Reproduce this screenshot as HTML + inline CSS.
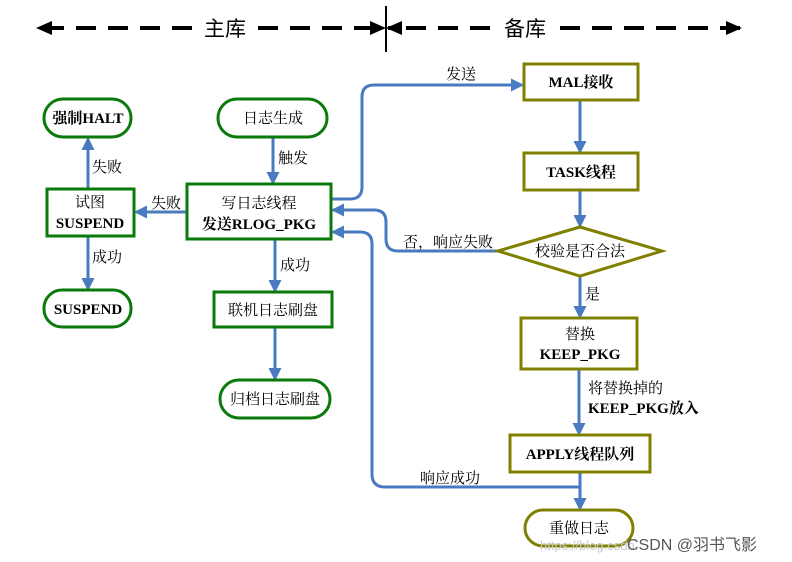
<!DOCTYPE html>
<html><head><meta charset="utf-8"><style>
html,body{margin:0;padding:0;background:#fff;}
svg{display:block;}
text{font-family:"Liberation Serif","Noto Serif CJK SC",serif;font-size:15px;fill:#000;}
.b{font-weight:bold;}
</style></head><body>
<svg width="792" height="562" viewBox="0 0 792 562" xmlns="http://www.w3.org/2000/svg">
<defs>
<marker id="a" markerWidth="13" markerHeight="13" refX="11" refY="6.5" orient="auto" markerUnits="userSpaceOnUse"><path d="M0,0 L13,6.5 L0,13 Z" fill="#4a7abf"/></marker>
<marker id="k" markerWidth="16" markerHeight="14" refX="14" refY="7" orient="auto" markerUnits="userSpaceOnUse"><path d="M0,0 L16,7 L0,14 Z" fill="#000"/></marker>
</defs>
<line x1="192" y1="28" x2="38" y2="28" stroke="#000" stroke-width="4" stroke-dasharray="20,12" marker-end="url(#k)"/>
<line x1="258" y1="28" x2="384" y2="28" stroke="#000" stroke-width="4" stroke-dasharray="20,12" marker-end="url(#k)"/>
<line x1="386" y1="6" x2="386" y2="52" stroke="#000" stroke-width="2"/>
<line x1="490" y1="28" x2="388" y2="28" stroke="#000" stroke-width="4" stroke-dasharray="20,12" marker-end="url(#k)"/>
<line x1="560" y1="28" x2="740" y2="28" stroke="#000" stroke-width="4" stroke-dasharray="20,12" marker-end="url(#k)"/>
<text x="225" y="36" text-anchor="middle" style="font-family:'Liberation Sans','Noto Sans CJK SC',sans-serif;font-size:21px">主库</text>
<text x="525" y="36" text-anchor="middle" style="font-family:'Liberation Sans','Noto Sans CJK SC',sans-serif;font-size:21px">备库</text>

<g fill="none" stroke="#4a7abf" stroke-width="3">
<line x1="273" y1="137" x2="273" y2="183" marker-end="url(#a)"/>
<line x1="187" y1="212" x2="136" y2="212" marker-end="url(#a)"/>
<line x1="88" y1="189" x2="88" y2="139" marker-end="url(#a)"/>
<line x1="88" y1="236" x2="88" y2="289" marker-end="url(#a)"/>
<line x1="275" y1="239" x2="275" y2="291" marker-end="url(#a)"/>
<line x1="275" y1="327" x2="275" y2="379" marker-end="url(#a)"/>
<path d="M331,199 L350,199 Q362,199 362,187 L362,97 Q362,85 374,85 L522,85" marker-end="url(#a)"/>
<line x1="580" y1="100" x2="580" y2="152" marker-end="url(#a)"/>
<line x1="580" y1="190" x2="580" y2="226" marker-end="url(#a)"/>
<path d="M498,251 L398,251 Q386,251 386,239 L386,222 Q386,210 374,210 L333,210" marker-end="url(#a)"/>
<line x1="580" y1="276" x2="580" y2="317" marker-end="url(#a)"/>
<line x1="579" y1="369" x2="579" y2="434" marker-end="url(#a)"/>
<line x1="580" y1="472" x2="580" y2="509" marker-end="url(#a)"/>
<path d="M580,487 L385,487 Q372,487 372,474 L372,244 Q372,232 360,232 L333,232" marker-end="url(#a)"/>
</g>

<g fill="#fff" stroke="#0a7a0a" stroke-width="3">
<rect x="44" y="99" width="87" height="38" rx="19"/>
<rect x="218" y="99" width="109" height="38" rx="19"/>
<rect x="187" y="184" width="144" height="55"/>
<rect x="47" y="189" width="87" height="47"/>
<rect x="44" y="290" width="87" height="37" rx="18"/>
<rect x="214" y="292" width="118" height="35"/>
<rect x="220" y="380" width="110" height="38" rx="19"/>
</g>
<g fill="#fff" stroke="#808000" stroke-width="3">
<rect x="524" y="64" width="114" height="36"/>
<rect x="524" y="153" width="114" height="37"/>
<polygon points="498,251 580,227 662,251 580,276"/>
<rect x="521" y="318" width="116" height="51"/>
<rect x="510" y="435" width="140" height="37"/>
<rect x="525" y="510" width="108" height="36" rx="18"/>
</g>

<text x="88" y="123" text-anchor="middle" class="b">强制HALT</text>
<text x="273" y="123" text-anchor="middle">日志生成</text>
<text x="259" y="208" text-anchor="middle">写日志线程</text>
<text x="259" y="229" text-anchor="middle" class="b">发送RLOG_PKG</text>
<text x="90" y="207" text-anchor="middle">试图</text>
<text x="90" y="228" text-anchor="middle" class="b">SUSPEND</text>
<text x="88" y="314" text-anchor="middle" class="b">SUSPEND</text>
<text x="273" y="315" text-anchor="middle">联机日志刷盘</text>
<text x="275" y="404" text-anchor="middle">归档日志刷盘</text>
<text x="581" y="87" text-anchor="middle" class="b">MAL接收</text>
<text x="581" y="177" text-anchor="middle" class="b">TASK线程</text>
<text x="580" y="256" text-anchor="middle">校验是否合法</text>
<text x="580" y="339" text-anchor="middle">替换</text>
<text x="580" y="359" text-anchor="middle" class="b">KEEP_PKG</text>
<text x="580" y="459" text-anchor="middle" class="b">APPLY线程队列</text>
<text x="579" y="533" text-anchor="middle">重做日志</text>

<text x="278" y="163">触发</text>
<text x="151" y="208">失败</text>
<text x="92" y="172">失败</text>
<text x="92" y="262">成功</text>
<text x="280" y="270">成功</text>
<text x="446" y="79">发送</text>
<text x="403" y="247">否，响应失败</text>
<text x="585" y="299">是</text>
<text x="588" y="393">将替换掉的</text>
<text x="588" y="413" class="b">KEEP_PKG放入</text>
<text x="420" y="483">响应成功</text>
<text x="540" y="550" style="font-family:'Liberation Sans',sans-serif;font-size:13px;fill:#c8c8c8">https://blog.csdn.</text>
<text x="627" y="550" style="font-family:'Liberation Sans','Noto Sans CJK SC',sans-serif;font-size:16px;fill:#555">CSDN @羽书飞影</text>
</svg>
</body></html>
